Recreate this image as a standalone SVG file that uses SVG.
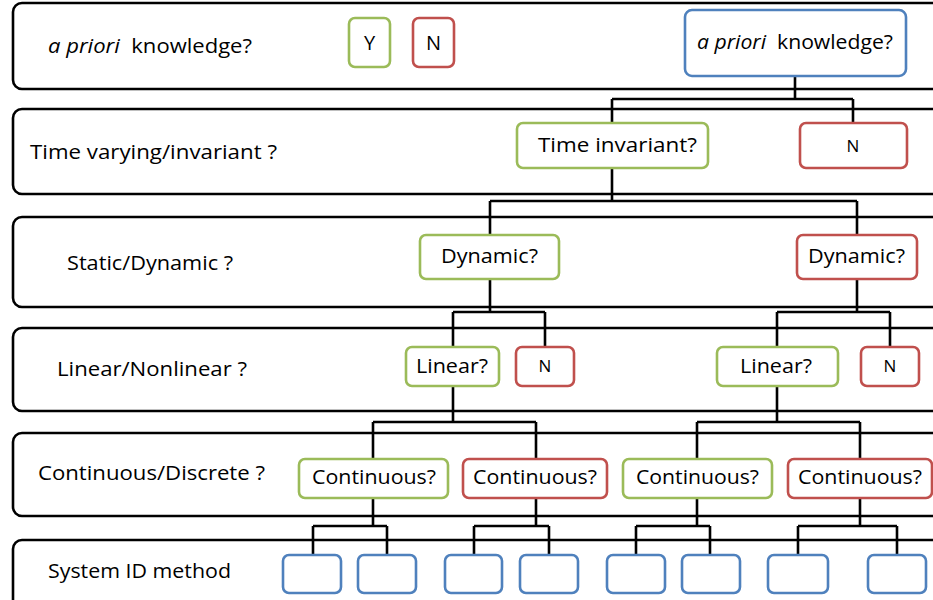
<svg xmlns="http://www.w3.org/2000/svg" width="933" height="600" viewBox="0 0 933 600">
<style>
  .band { fill: #fff; stroke: #000; stroke-width: 2.6; }
  .g { fill: #fff; stroke: #9BBB59; stroke-width: 2.6; }
  .r { fill: #fff; stroke: #C0504D; stroke-width: 2.6; }
  .b { fill: #fff; stroke: #4F81BD; stroke-width: 2.6; }
  .t { font-family: "Open Sans", "Liberation Sans", sans-serif; font-size: 20px; fill: #000; }
  .s { font-family: "Open Sans", "Liberation Sans", sans-serif; font-size: 17px; fill: #000; text-anchor: middle; }
  .conn { fill: none; stroke: #000; stroke-width: 2.6; }
</style>
<rect width="933" height="600" fill="#fff"/>

<g id="bands">
  <rect class="band" x="13" y="3" width="945" height="86" rx="9"/>
  <rect class="band" x="13" y="109" width="945" height="85" rx="9"/>
  <rect class="band" x="13" y="217" width="945" height="90" rx="9"/>
  <rect class="band" x="13" y="328" width="945" height="83" rx="9"/>
  <rect class="band" x="13" y="433" width="945" height="83" rx="9"/>
  <rect class="band" x="13" y="540" width="945" height="90" rx="9"/>
</g>

<g id="row-labels">
  <text class="t" x="48" y="53" textLength="204" lengthAdjust="spacingAndGlyphs" xml:space="preserve"><tspan font-style="italic">a priori</tspan>  knowledge?</text>
  <text class="t" x="30" y="159" textLength="247" lengthAdjust="spacingAndGlyphs">Time varying/invariant ?</text>
  <text class="t" x="67" y="270" textLength="166" lengthAdjust="spacingAndGlyphs">Static/Dynamic ?</text>
  <text class="t" x="57" y="376" textLength="190" lengthAdjust="spacingAndGlyphs">Linear/Nonlinear ?</text>
  <text class="t" x="38" y="480" textLength="227" lengthAdjust="spacingAndGlyphs">Continuous/Discrete ?</text>
  <text class="t" x="48" y="578" textLength="183" lengthAdjust="spacingAndGlyphs">System ID method</text>
</g>

<g id="legend-Y">
  <rect class="g" x="349" y="18" width="41" height="49" rx="6"/>
  <text class="t" x="369.5" y="50" text-anchor="middle">Y</text>
</g>
<g id="legend-N">
  <rect class="r" x="413" y="18" width="41" height="49" rx="6"/>
  <text class="t" x="433.5" y="50" text-anchor="middle">N</text>
</g>

<g id="connectors">
  <path class="conn" d="M795,76 V99 M612,99 H853 M612,99 V123 M853,99 V123"/>
  <path class="conn" d="M612,168 V201 M490,201 H857 M490,201 V235 M857,201 V235"/>
  <path class="conn" d="M490,279 V312 M453,312 H545 M453,312 V347 M545,312 V347"/>
  <path class="conn" d="M857,279 V312 M777,312 H890 M777,312 V347 M890,312 V347"/>
  <path class="conn" d="M453,386 V422 M373,422 H536 M373,422 V459 M536,422 V459"/>
  <path class="conn" d="M777,386 V422 M697,422 H860 M697,422 V459 M860,422 V459"/>
  <path class="conn" d="M373,498 V526 M313,526 H387 M313,526 V555 M387,526 V555"/>
  <path class="conn" d="M536,498 V526 M474,526 H549 M474,526 V555 M549,526 V555"/>
  <path class="conn" d="M697,498 V526 M636,526 H710 M636,526 V555 M710,526 V555"/>
  <path class="conn" d="M860,498 V526 M798,526 H897 M798,526 V555 M897,526 V555"/>
</g>

<g id="root">
  <rect class="b" x="685" y="10" width="221" height="66" rx="7"/>
  <text class="t" x="697" y="49" textLength="196" lengthAdjust="spacingAndGlyphs" xml:space="preserve"><tspan font-style="italic">a priori</tspan>  knowledge?</text>
</g>

<g id="time-invariant">
  <rect class="g" x="517" y="123" width="191" height="45" rx="6"/>
  <text class="t" x="538" y="152" textLength="159" lengthAdjust="spacingAndGlyphs">Time invariant?</text>
</g>
<g id="time-N">
  <rect class="r" x="800" y="123" width="107" height="45" rx="6"/>
  <text class="s" x="853" y="152">N</text>
</g>

<g id="dynamic-1">
  <rect class="g" x="420" y="235" width="139" height="44" rx="6"/>
  <text class="t" x="441" y="263" textLength="97" lengthAdjust="spacingAndGlyphs">Dynamic?</text>
</g>
<g id="dynamic-2">
  <rect class="r" x="797" y="235" width="120" height="44" rx="6"/>
  <text class="t" x="808" y="263" textLength="97" lengthAdjust="spacingAndGlyphs">Dynamic?</text>
</g>

<g id="linear-1">
  <rect class="g" x="406" y="347" width="93" height="39" rx="6"/>
  <text class="t" x="416" y="373" textLength="72" lengthAdjust="spacingAndGlyphs">Linear?</text>
</g>
<g id="linear-1-N">
  <rect class="r" x="516" y="347" width="58" height="39" rx="6"/>
  <text class="s" x="545" y="372">N</text>
</g>
<g id="linear-2">
  <rect class="g" x="717" y="347" width="121" height="39" rx="6"/>
  <text class="t" x="740" y="373" textLength="72" lengthAdjust="spacingAndGlyphs">Linear?</text>
</g>
<g id="linear-2-N">
  <rect class="r" x="861" y="347" width="58" height="39" rx="6"/>
  <text class="s" x="890" y="372">N</text>
</g>

<g id="continuous-1">
  <rect class="g" x="299" y="459" width="149" height="39" rx="6"/>
  <text class="t" x="312" y="484" textLength="124" lengthAdjust="spacingAndGlyphs">Continuous?</text>
</g>
<g id="continuous-2">
  <rect class="r" x="463" y="459" width="144" height="39" rx="6"/>
  <text class="t" x="473" y="484" textLength="124" lengthAdjust="spacingAndGlyphs">Continuous?</text>
</g>
<g id="continuous-3">
  <rect class="g" x="623" y="459" width="149" height="39" rx="6"/>
  <text class="t" x="636" y="484" textLength="123" lengthAdjust="spacingAndGlyphs">Continuous?</text>
</g>
<g id="continuous-4">
  <rect class="r" x="788" y="459" width="144" height="39" rx="6"/>
  <text class="t" x="798" y="484" textLength="124" lengthAdjust="spacingAndGlyphs">Continuous?</text>
</g>

<g id="method-1"><rect class="b" x="283" y="555" width="58" height="38" rx="6"/></g>
<g id="method-2"><rect class="b" x="358" y="555" width="58" height="38" rx="6"/></g>
<g id="method-3"><rect class="b" x="445" y="555" width="57" height="38" rx="6"/></g>
<g id="method-4"><rect class="b" x="520" y="555" width="58" height="38" rx="6"/></g>
<g id="method-5"><rect class="b" x="607" y="555" width="58" height="38" rx="6"/></g>
<g id="method-6"><rect class="b" x="682" y="555" width="58" height="38" rx="6"/></g>
<g id="method-7"><rect class="b" x="768" y="555" width="60" height="38" rx="6"/></g>
<g id="method-8"><rect class="b" x="868" y="555" width="58" height="38" rx="6"/></g>
</svg>
